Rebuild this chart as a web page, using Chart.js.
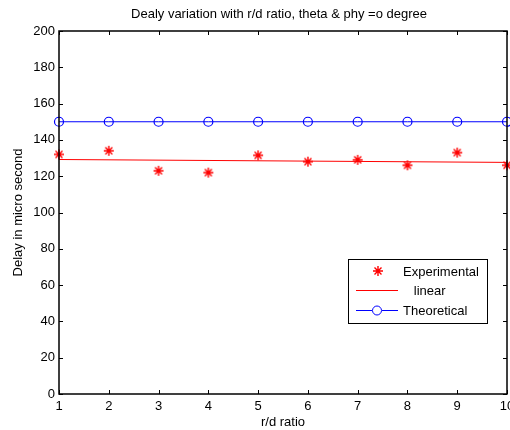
<!DOCTYPE html>
<html>
<head>
<meta charset="utf-8">
<script src="https://cdn.jsdelivr.net/npm/chart.js@4/dist/chart.umd.min.js"></script>
<style>
  html, body { margin: 0; padding: 0; background: #fff; }
  #wrap { width: 510px; height: 430px; }
</style>
</head>
<body>
<div id="wrap"><canvas id="c"></canvas></div>
<script>
const ratios = [1, 2, 3, 4, 5, 6, 7, 8, 9, 10];
const experimental = [132, 134, 123, 122, 131.5, 128, 129, 126, 133, 126];
const theoretical = [150, 150, 150, 150, 150, 150, 150, 150, 150, 150];
const linearX = [1, 10];
const linearY = [129.2, 127.6];
const legendLabels = ['Experimental', '   linear', 'Theoretical'];

const font = 'Liberation Sans, Arial, sans-serif';
Chart.defaults.font.family = font;
Chart.defaults.font.size = 13;
Chart.defaults.color = '#000';

// ticks pointing into the plot on all four sides, plus title and legend box
const matlabBox = {
  id: 'matlabBox',
  afterDraw(chart) {
    const { ctx, chartArea: a, scales } = chart;
    ctx.save();
    ctx.strokeStyle = '#000';
    ctx.lineWidth = 1;
    ctx.beginPath();
    scales.x.ticks.forEach(t => {
      const px = Math.round(scales.x.getPixelForValue(t.value)) + 0.5;
      ctx.moveTo(px, a.bottom); ctx.lineTo(px, a.bottom - 4);
      ctx.moveTo(px, a.top); ctx.lineTo(px, a.top + 4);
    });
    scales.y.ticks.forEach(t => {
      const py = Math.round(scales.y.getPixelForValue(t.value)) + 0.5;
      ctx.moveTo(a.left, py); ctx.lineTo(a.left + 4, py);
      ctx.moveTo(a.right, py); ctx.lineTo(a.right - 4, py);
    });
    ctx.stroke();
    ctx.lineWidth = 1.5;
    ctx.strokeRect(a.left, a.top, a.right - a.left, a.bottom - a.top);

    // title
    ctx.fillStyle = '#000';
    ctx.font = '13px ' + font;
    ctx.textAlign = 'center';
    ctx.textBaseline = 'middle';
    ctx.fillText('Dealy variation with r/d ratio, theta & phy =o degree', 279, 14);

    // legend
    const bx = 348, by = 259, bw = 139, bh = 64;
    ctx.fillStyle = '#fff';
    ctx.fillRect(bx, by, bw, bh);
    ctx.lineWidth = 1;
    ctx.strokeStyle = '#000';
    ctx.strokeRect(bx + 0.5, by + 0.5, bw, bh);
    const rows = [271, 290, 310];
    ctx.textAlign = 'left';
    ctx.drawImage(asterisk, 372, rows[0] - 6);
    // linear line
    ctx.strokeStyle = 'red';
    ctx.beginPath();
    ctx.moveTo(356, rows[1] + 0.5); ctx.lineTo(398, rows[1] + 0.5);
    ctx.stroke();
    // theoretical
    ctx.strokeStyle = 'blue';
    ctx.beginPath();
    ctx.moveTo(356, rows[2] + 0.5); ctx.lineTo(372, rows[2] + 0.5);
    ctx.moveTo(382, rows[2] + 0.5); ctx.lineTo(398, rows[2] + 0.5);
    ctx.stroke();
    ctx.beginPath();
    ctx.arc(377, rows[2] + 0.5, 4.5, 0, Math.PI * 2);
    ctx.stroke();
    ctx.fillStyle = '#000';
    ctx.font = '13px ' + font;
    legendLabels.forEach((l, i) => ctx.fillText(l, 403, rows[i] + 1));
    ctx.restore();
  }
};

const asterisk = (() => {
  const c = document.createElement('canvas');
  c.width = 12; c.height = 12;
  const g = c.getContext('2d');
  g.strokeStyle = 'red';
  g.lineWidth = 1.4;
  g.beginPath();
  g.moveTo(1, 6); g.lineTo(11, 6);
  g.moveTo(6, 1); g.lineTo(6, 11);
  g.moveTo(2.5, 2.5); g.lineTo(9.5, 9.5);
  g.moveTo(9.5, 2.5); g.lineTo(2.5, 9.5);
  g.stroke();
  return c;
})();

new Chart(document.getElementById('c'), {
  type: 'scatter',
  data: {
    datasets: [
      {
        label: 'linear',
        data: linearX.map((x, i) => ({ x, y: linearY[i] })),
        showLine: true,
        borderColor: 'red',
        borderWidth: 1,
        pointRadius: 0
      },
      {
        label: 'Theoretical',
        data: ratios.map((x, i) => ({ x, y: theoretical[i] })),
        showLine: true,
        borderColor: 'blue',
        borderWidth: 1,
        pointStyle: 'circle',
        pointRadius: 4.5,
        pointBackgroundColor: 'rgba(0,0,0,0)',
        pointBorderColor: 'blue',
        pointBorderWidth: 1.2
      },
      {
        label: 'Experimental',
        data: ratios.map((x, i) => ({ x, y: experimental[i] })),
        pointStyle: asterisk,
        pointRadius: 5
      }
    ]
  },
  options: {
    responsive: true,
    maintainAspectRatio: false,
    animation: false,
    clip: false,
    layout: { autoPadding: false, padding: { top: 31, right: 3, left: 0, bottom: 0 } },
    plugins: {
      legend: { display: false },
      tooltip: { enabled: false }
    },
    scales: {
      x: {
        type: 'linear',
        min: 1,
        max: 10,
        ticks: { stepSize: 1, padding: 5, color: '#000', maxRotation: 0 },
        grid: { display: false, drawTicks: false },
        border: { display: false },
        title: { display: true, text: 'r/d ratio', color: '#000', padding: { top: 0, bottom: 0 } },
        afterFit(s) { s.height = 36; s.paddingLeft = 0; s.paddingRight = 0; }
      },
      y: {
        min: 0,
        max: 200,
        ticks: { stepSize: 20, padding: 4, color: '#000' },
        grid: { display: false, drawTicks: false },
        border: { display: false },
        title: { display: true, text: 'Delay in micro second', color: '#000', padding: { top: 11, bottom: 0 } },
        afterFit(s) { s.width = 59; s.paddingTop = 0; s.paddingBottom = 0; }
      }
    }
  },
  plugins: [matlabBox]
});
</script>
</body>
</html>
